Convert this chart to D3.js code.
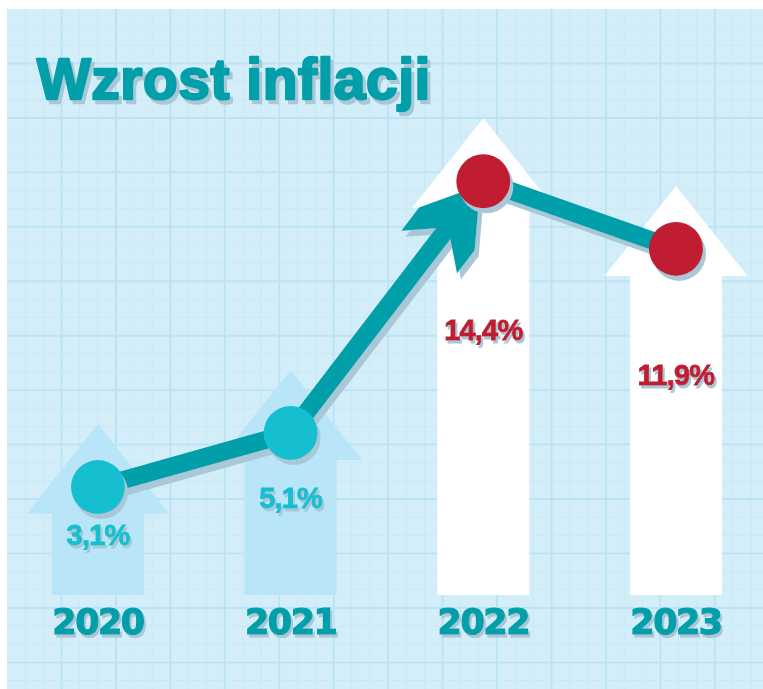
<!DOCTYPE html>
<html>
<head>
<meta charset="utf-8">
<script src="https://cdn.jsdelivr.net/npm/d3@7"></script>
<style>
  body { margin: 0; background: #fff; }
  svg { display: block; }
</style>
</head>
<body>
<script>
// dane
var title = "Wzrost inflacji";
var years = ["2020", "2021", "2022", "2023"];
var inflation = [3.1, 5.1, 14.4, 11.9];

var W = 763, H = 689;
var teal = "#009fa9", shadow = "#a8c7d7";

var pl = d3.formatLocale({ decimal: ",", thousands: " ", grouping: [3], currency: ["", " zł"] });
var fmt = function(v) { return pl.format(".1f")(v) + "%"; };

var svg = d3.select("body").append("svg").attr("width", W).attr("height", H);

// cień jako filtr, żeby nie dublować tekstów
var defs = svg.append("defs");
function makeShadow(id, dx, dy) {
    var f = defs.append("filter").attr("id", id)
        .attr("x", "-20%").attr("y", "-20%").attr("width", "140%").attr("height", "140%");
    f.append("feOffset").attr("in", "SourceAlpha").attr("dx", dx).attr("dy", dy).attr("result", "o");
    f.append("feFlood").attr("flood-color", shadow);
    f.append("feComposite").attr("in2", "o").attr("operator", "in").attr("result", "s");
    var m = f.append("feMerge");
    m.append("feMergeNode").attr("in", "s");
    m.append("feMergeNode").attr("in", "SourceGraphic");
    return "url(#" + id + ")";
}
var shTitle = makeShadow("sh-title", 3, 4);
var shLine = makeShadow("sh-line", 4, 6);
var shDot = makeShadow("sh-dot", 3, 5);
var shText = makeShadow("sh-text", 2, 3);

// tło z siatką
var panel = { x: 7, y: 9, w: W - 7, h: H - 9 };
var step = 18.15;
svg.append("rect").attr("x", panel.x).attr("y", panel.y)
    .attr("width", panel.w).attr("height", panel.h).attr("fill", "#d4eef9");

var grid = svg.append("g");
var vx = d3.range(1, Math.ceil(panel.w / step));
var hy = d3.range(1, Math.ceil(panel.h / step));
grid.selectAll("line.v").data(vx).enter().append("line")
    .attr("x1", function(i) { return panel.x + i * step; })
    .attr("x2", function(i) { return panel.x + i * step; })
    .attr("y1", panel.y).attr("y2", H)
    .attr("stroke", function(i) { return i % 3 == 0 ? "#bbe3f7" : "#c7e9f8"; })
    .attr("stroke-width", function(i) { return i % 3 == 0 ? 2 : 1; });
grid.selectAll("line.h").data(hy).enter().append("line")
    .attr("y1", function(i) { return panel.y + i * step; })
    .attr("y2", function(i) { return panel.y + i * step; })
    .attr("x1", panel.x).attr("x2", W)
    .attr("stroke", function(i) { return i % 3 == 0 ? "#bbe3f7" : "#c7e9f8"; })
    .attr("stroke-width", function(i) { return i % 3 == 0 ? 2 : 1; });

// skale
var x = d3.scalePoint().domain(years).range([98, 676]);
var y = d3.scaleLinear().domain([0, 15]).range([571, 165]);
var high = d3.scaleThreshold().domain([10]).range([false, true]);
var base = 595;

var data = years.map(function(yr, i) { return { year: yr, v: inflation[i] }; });
function markColor(d) { return high(d.v) ? "#c01f30" : "#19bfd0"; }

// strzałki w tle
function arrowPath(d) {
    var cx = x(d.year), tip = y(d.v) - 63, neck = tip + 90;
    return d3.line()([
        [cx - 46, base], [cx - 46, neck], [cx - 71.5, neck], [cx, tip],
        [cx + 71.5, neck], [cx + 46, neck], [cx + 46, base]
    ]) + "Z";
}
svg.append("g").selectAll("path").data(data).enter().append("path")
    .attr("d", arrowPath)
    .attr("fill", function(d) { return high(d.v) ? "#ffffff" : "#b9e5f9"; });

// etykiety wartości
function labelY(d) { return y(d.v) + 22 + 0.33 * (base - y(d.v)); }
svg.append("g").attr("filter", shText)
    .attr("font-family", "Liberation Sans, Arial, sans-serif")
    .attr("font-weight", "bold").attr("font-size", 29).attr("letter-spacing", -0.8)
    .attr("text-anchor", "middle")
    .selectAll("text").data(data).enter().append("text")
    .attr("x", function(d) { return x(d.year); })
    .attr("y", labelY)
    .attr("fill", markColor).attr("stroke", markColor).attr("stroke-width", 0.9)
    .text(function(d) { return fmt(d.v); });

// linia z grotem na odcinku do maksimum
var pts = data.map(function(d) { return [x(d.year), y(d.v)]; });
var imax = d3.maxIndex(inflation);
function headPoints() {
    var a = pts[imax - 1], b = pts[imax];
    var dx = b[0] - a[0], dy = b[1] - a[1], len = Math.hypot(dx, dy);
    var ux = dx / len, uy = dy / len, nx = -uy, ny = ux;
    var local = [[-66, -9], [-89, -35], [-60, -35], [-5, 0], [-60, 35], [-89, 35], [-66, 9]];
    return local.map(function(p) {
        return [b[0] + p[0] * ux + p[1] * nx, b[1] + p[0] * uy + p[1] * ny];
    });
}
var lineG = svg.append("g").attr("filter", shLine);
lineG.append("path").attr("d", d3.line()(pts))
    .attr("fill", "none").attr("stroke", teal).attr("stroke-width", 18);
if (imax > 0) {
    lineG.append("path").attr("d", d3.line()(headPoints()) + "Z").attr("fill", teal);
}

// punkty
svg.append("g").attr("filter", shDot)
    .selectAll("circle").data(data).enter().append("circle")
    .attr("cx", function(d) { return x(d.year); })
    .attr("cy", function(d) { return y(d.v); })
    .attr("r", 27)
    .attr("fill", markColor);

// lata
svg.append("g").attr("filter", shText)
    .attr("font-family", "DejaVu Sans, sans-serif")
    .attr("font-weight", "bold").attr("font-size", 35).attr("letter-spacing", -1.5)
    .attr("text-anchor", "middle")
    .selectAll("text").data(years).enter().append("text")
    .attr("x", function(d) { return x(d); }).attr("y", 634)
    .attr("fill", teal).attr("stroke", teal).attr("stroke-width", 1.2)
    .text(function(d) { return d; });

// tytuł
svg.append("text").attr("filter", shTitle)
    .attr("font-family", "Liberation Sans, Arial, sans-serif")
    .attr("font-weight", "bold").attr("font-size", 57).attr("letter-spacing", 0.5)
    .attr("x", 37).attr("y", 99)
    .attr("fill", teal).attr("stroke", teal).attr("stroke-width", 2.4).attr("stroke-linejoin", "round")
    .text(title);
</script>
</body>
</html>
